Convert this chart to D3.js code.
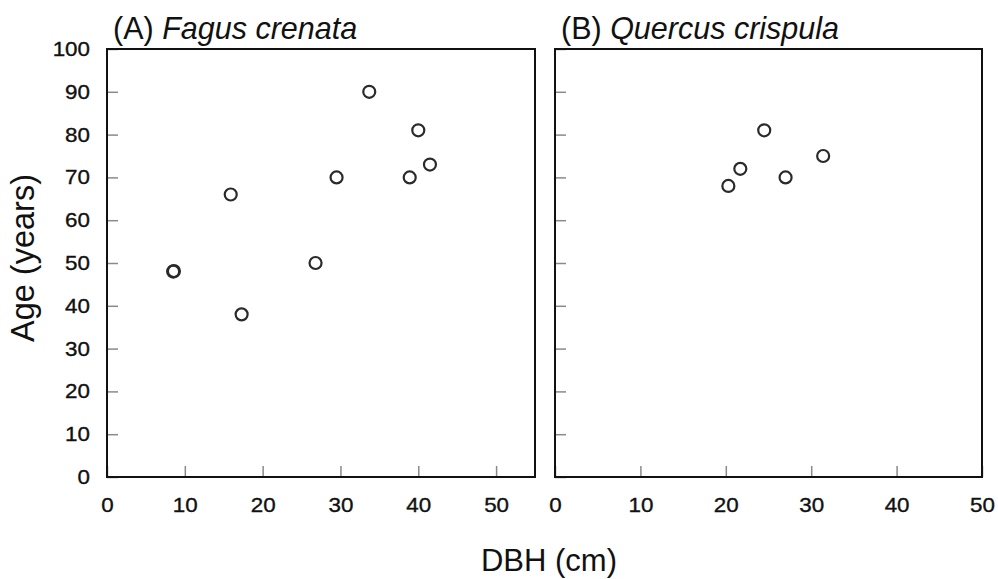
<!DOCTYPE html>
<html>
<head>
<meta charset="utf-8">
<script src="https://cdn.jsdelivr.net/npm/d3@7"></script>
<style>
  body { margin: 0; background: #fff; }
  text { font-family: "Liberation Sans", Arial, sans-serif; fill: #111; }
</style>
</head>
<body>
<div class="chart"></div>
<script>
// data (DBH in cm, age in years)
var fagusDbh = [8.5, 8.6, 15.9, 17.3, 26.8, 29.5, 33.7, 38.9, 40.0, 41.5];
var fagusAge = [48, 48.1, 66, 38, 50, 70, 90, 70, 81, 73];
var quercusDbh = [20.3, 21.7, 24.5, 27.0, 31.4];
var quercusAge = [68, 72, 81, 70, 75];
var yTicks = [0, 10, 20, 30, 40, 50, 60, 70, 80, 90, 100];
var xTicks = [0, 10, 20, 30, 40, 50];

var svgWidth = 998;
var svgHeight = 579;

var svg = d3.select('.chart')
  .append('svg')
    .attr('width', svgWidth)
    .attr('height', svgHeight);

var top0 = 49, bottom0 = 477;
var yScale = d3.scaleLinear().domain([0, 100]).range([bottom0 - top0, 0]);

var panels = [
  { left: 107, width: 428, xMax: 55, dbh: fagusDbh, age: fagusAge,
    tag: "(A) ", name: "Fagus crenata", yLabels: true },
  { left: 555, width: 427, xMax: 50, dbh: quercusDbh, age: quercusAge,
    tag: "(B) ", name: "Quercus crispula", yLabels: false }
];

// tick label look (the source digits are wide and a bit heavy)
function styleTickText(sel) {
  sel.style('font-size', '20px')
    .style('font-family', '"Liberation Sans", Arial, sans-serif')
    .attr('fill', '#111')
    .attr('stroke', '#111')
    .attr('stroke-width', 0.35);
}

panels.forEach(function(p) {
  var g = svg.append('g')
    .attr('transform', 'translate(' + p.left + ',' + top0 + ')');
  var h = bottom0 - top0;

  var xScale = d3.scaleLinear().domain([0, p.xMax]).range([0, p.width]);

  // left axis, ticks pointing inward
  var leftAxis = d3.axisLeft(yScale)
    .tickValues(yTicks)
    .tickSizeInner(-11)
    .tickSizeOuter(0)
    .tickPadding(17);
  if (!p.yLabels) leftAxis.tickFormat('');
  var ya = g.append('g').call(leftAxis);
  ya.select('.domain').remove();
  ya.selectAll('line').attr('stroke', '#8a8a8a').attr('stroke-width', 1.5);
  styleTickText(ya.selectAll('text'));
  // widen the digits a little
  ya.selectAll('.tick text')
    .attr('transform', 'scale(1.12,1)')
    .attr('x', -17 / 1.12);

  // bottom axis
  var bottomAxis = d3.axisBottom(xScale)
    .tickValues(xTicks)
    .tickSizeInner(-11)
    .tickSizeOuter(0)
    .tickPadding(21);
  var xa = g.append('g')
    .attr('transform', 'translate(0,' + h + ')')
    .call(bottomAxis);
  xa.select('.domain').remove();
  xa.selectAll('line').attr('stroke', '#8a8a8a').attr('stroke-width', 1.5);
  styleTickText(xa.selectAll('text'));
  xa.selectAll('.tick text').attr('transform', 'scale(1.12,1)');

  // frame
  g.append('rect')
    .attr('x', 0).attr('y', 0)
    .attr('width', p.width).attr('height', h)
    .attr('fill', 'none')
    .attr('stroke', '#111')
    .attr('stroke-width', 2);

  // points
  g.selectAll('circle')
    .data(p.dbh)
    .enter()
    .append('circle')
    .attr('cx', function(d) { return xScale(d); })
    .attr('cy', function(d, i) { return yScale(p.age[i]); })
    .attr('r', 6)
    .attr('fill', 'none')
    .attr('stroke', '#2a2a2a')
    .attr('stroke-width', 2.2);

  // panel title
  var t = svg.append('text')
    .attr('x', p.left + 6)
    .attr('y', 39)
    .style('font-size', '30.5px');
  t.append('tspan').text(p.tag);
  t.append('tspan').style('font-style', 'italic').text(p.name);
});

// axis titles
svg.append('text')
  .attr('transform', 'translate(34,258) rotate(-90)')
  .attr('text-anchor', 'middle')
  .style('font-size', '32.5px')
  .text('Age (years)');

svg.append('text')
  .attr('x', 549)
  .attr('y', 571)
  .attr('text-anchor', 'middle')
  .style('font-size', '31px')
  .text('DBH (cm)');
</script>
</body>
</html>
